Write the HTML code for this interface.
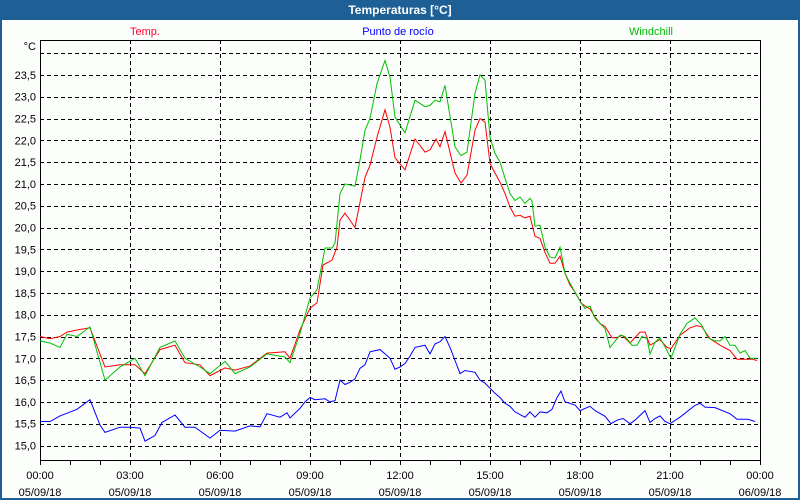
<!DOCTYPE html>
<html><head><meta charset="utf-8"><style>
body{margin:0;background:#fff}
#w{position:relative;width:800px;height:500px;background:#1e6096;overflow:hidden;font-family:"Liberation Sans",sans-serif}
#title{position:absolute;left:0;top:0;width:800px;height:20px;line-height:20px;text-align:center;color:#fff;font-weight:bold;font-size:12px}
#inner{position:absolute;left:2px;top:20px;width:796px;height:478px;background:#fcfefc}
svg{position:absolute;left:0;top:0}
</style></head><body>
<div id="w">
<div id="title">Temperaturas [°C]</div>
<div id="inner"></div>
<svg id="s" width="800" height="500"></svg>
</div>
<script>
const tempMin=[0,20,40,54,74,100,130,160,190,210,240,270,290,320,340,370,390,420,454,490,500,520,540,554,566,584,594,600,610,630,650,660,674,690,700,710,730,750,770,780,792,800,810,830,842,854,870,880,890,900,910,920,930,940,950,960,970,980,990,1000,1010,1020,1030,1040,1050,1060,1070,1082,1090,1100,1110,1120,1130,1144,1154,1164,1180,1200,1210,1220,1240,1254,1262,1280,1300,1314,1324,1340,1360,1380,1394,1410,1424,1434];
const tempVal=[17.5,17.45,17.5,17.6,17.65,17.7,16.8,16.85,16.85,16.65,17.2,17.3,16.9,16.85,16.6,16.78,16.73,16.82,17.12,17.15,17.0,17.65,18.15,18.27,19.14,19.25,19.55,20.17,20.33,20.0,21.15,21.43,22.07,22.7,22.3,21.6,21.32,22.03,21.73,21.78,22.03,21.85,22.2,21.25,21.02,21.2,22.23,22.5,22.42,21.47,21.25,21.04,20.78,20.47,20.26,20.28,20.22,20.26,19.8,19.75,19.43,19.18,19.18,19.34,18.95,18.68,18.52,18.27,18.2,18.13,17.95,17.8,17.73,17.47,17.47,17.53,17.35,17.6,17.6,17.3,17.43,17.25,17.22,17.53,17.7,17.75,17.72,17.45,17.3,17.18,16.98,16.98,16.98,16.95];
const windMin=[0,20,40,54,74,100,130,160,190,210,240,270,290,320,340,370,390,420,454,490,500,520,540,554,570,584,590,600,610,630,640,650,660,674,690,700,710,730,750,770,780,790,800,810,830,842,854,870,880,890,900,910,920,930,940,950,960,970,980,984,990,1000,1010,1020,1030,1040,1050,1060,1070,1082,1090,1100,1110,1120,1130,1140,1160,1170,1184,1194,1204,1214,1220,1230,1240,1254,1262,1270,1280,1294,1310,1324,1336,1350,1360,1370,1380,1390,1400,1410,1420,1434];
const windVal=[17.4,17.35,17.25,17.55,17.5,17.72,16.5,16.8,17.0,16.6,17.25,17.4,17.0,16.8,16.65,16.93,16.65,16.8,17.1,17.03,16.9,17.57,18.38,18.57,19.53,19.53,19.64,20.78,21.0,20.95,21.55,22.23,22.5,23.3,23.83,23.45,22.53,22.17,22.92,22.77,22.8,22.92,22.88,23.26,21.85,21.65,21.73,23.08,23.5,23.38,22.07,21.7,21.5,21.13,20.78,20.62,20.7,20.55,20.67,20.6,20.03,20.05,19.55,19.32,19.3,19.55,18.95,18.72,18.52,18.27,18.15,18.2,17.92,17.8,17.68,17.25,17.53,17.5,17.3,17.3,17.5,17.45,17.1,17.37,17.47,17.18,17.0,17.25,17.55,17.8,17.93,17.75,17.47,17.4,17.4,17.5,17.3,17.3,17.12,17.18,17.0,17.0];
const dewMin=[0,20,40,74,100,120,130,160,180,200,210,230,244,270,290,310,340,360,390,420,440,454,480,494,500,520,530,540,550,570,580,590,600,610,620,630,640,650,660,680,690,700,710,720,730,740,750,770,780,790,800,810,820,830,840,850,870,880,890,910,920,930,940,950,970,980,990,1000,1014,1024,1034,1042,1050,1070,1080,1100,1110,1130,1142,1154,1166,1180,1190,1210,1220,1230,1240,1250,1260,1280,1310,1320,1330,1350,1380,1394,1416,1430];
const dewVal=[15.55,15.55,15.68,15.83,16.05,15.47,15.3,15.42,15.42,15.4,15.1,15.23,15.53,15.7,15.42,15.42,15.17,15.35,15.33,15.45,15.43,15.73,15.65,15.75,15.63,15.85,16.0,16.1,16.05,16.07,16.0,16.03,16.5,16.4,16.45,16.53,16.77,16.85,17.15,17.2,17.1,17.0,16.75,16.8,16.88,17.05,17.25,17.3,17.1,17.33,17.38,17.5,17.25,16.95,16.65,16.72,16.68,16.5,16.43,16.2,16.1,15.97,15.9,15.77,15.65,15.77,15.65,15.77,15.75,15.83,16.1,16.25,16.0,15.93,15.8,15.9,15.8,15.67,15.5,15.58,15.62,15.5,15.58,15.8,15.53,15.62,15.68,15.55,15.5,15.65,15.92,15.97,15.88,15.87,15.73,15.6,15.6,15.55];
const yTicks=[15.0,15.5,16.0,16.5,17.0,17.5,18.0,18.5,19.0,19.5,20.0,20.5,21.0,21.5,22.0,22.5,23.0,23.5];
const yGrid=[15.0,15.5,16.0,16.5,17.0,17.5,18.0,18.5,19.0,19.5,20.0,20.5,21.0,21.5,22.0,22.5,23.0,23.5,24.0];
const xTimes=["00:00","03:00","06:00","09:00","12:00","15:00","18:00","21:00","00:00"];
const xDates=["05/09/18","05/09/18","05/09/18","05/09/18","05/09/18","05/09/18","05/09/18","05/09/18","06/09/18"];

const L=40,R=760,T=40,B=460;
const xs=m=>L+m*(R-L)/1440;
const ys=v=>445.5-(v-15)*43.6;
const s=document.getElementById('s');
const NS='http://www.w3.org/2000/svg';
function mk(tag,at){const e=document.createElementNS(NS,tag);for(const k in at)e.setAttribute(k,at[k]);s.appendChild(e);return e;}

yGrid.forEach(v=>{const e=mk('line',{x1:L,x2:R,y1:Math.round(ys(v))+0.5,y2:Math.round(ys(v))+0.5,stroke:'#000','stroke-dasharray':'4,3','stroke-width':1});

});
for(let i=1;i<8;i++){const x=Math.round(xs(i*180))+0.5;const e=mk('line',{x1:x,x2:x,y1:T,y2:B,stroke:'#000','stroke-dasharray':'4,3'});

}
for(let h=0;h<=24;h++){const x=Math.round(xs(h*60))+0.5;const e=mk('line',{x1:x,x2:x,y1:B,y2:B+5,stroke:'#000'});

}
const fr=mk('rect',{x:L+0.5,y:T+0.5,width:R-L,height:B-T,fill:'none',stroke:'#000','stroke-width':1});



yTicks.forEach(v=>{const t=mk('text',{x:36,y:ys(v)+4,'text-anchor':'end','font-size':11,fill:'#000'});t.textContent=v.toFixed(1).replace('.',',');

});
const u=mk('text',{x:36,y:50,'text-anchor':'end','font-size':11,fill:'#000'});u.textContent='°C';


xTimes.forEach((lab,i)=>{const x=xs(i*180);
const a=mk('text',{x:x,y:479,'text-anchor':'middle','font-size':11,fill:'#000'});a.textContent=lab;


const b=mk('text',{x:x,y:496,'text-anchor':'middle','font-size':11,fill:'#000'});b.textContent=xDates[i];

});

function series(mins,vals,col,name){const p=mins.map((m,i)=>(i?'L':'M')+xs(m).toFixed(1)+' '+ys(vals[i]).toFixed(1)).join(' ');
const e=mk('path',{d:p,fill:'none',stroke:col,'stroke-width':1});

}
series(dewMin,dewVal,'#0000ff','dewpoint-line');
series(tempMin,tempVal,'#ff0000','temp-line');
series(windMin,windVal,'#00c000','windchill-line');

[['Temp.',145,'#ff0033','legend-temp'],['Punto de rocío',398,'#0000ff','legend-dewpoint'],['Windchill',651,'#00bb00','legend-windchill']].forEach(l=>{
const t=mk('text',{x:l[1],y:35,'text-anchor':'middle','font-size':11,fill:l[2]});t.textContent=l[0];

});
</script>
</body></html>
